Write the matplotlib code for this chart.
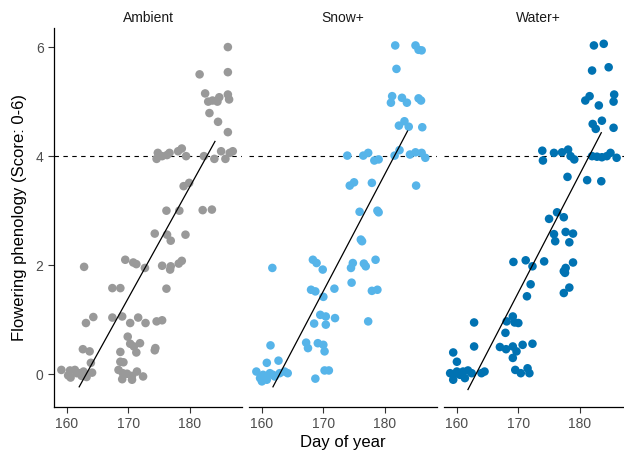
import numpy as np
import matplotlib.pyplot as plt

plt.rcParams['font.family'] = ['Liberation Sans', 'DejaVu Sans']

panels = ["Ambient", "Snow+", "Water+"]
colors = ["#999999", "#56B4E9", "#0072B2"]

amb_day = [186.2, 181.6, 186.2, 182.5,
           183.0, 183.7, 184.5, 184.8, 186.2, 186.4,
           183.2, 184.6, 186.2,
           174.8, 174.6, 175.5, 176.3, 176.7, 178.1, 178.7, 179.4, 182.3, 184.0, 185.1, 185.8, 186.5, 187.0,
           179.0, 179.9,
           176.2, 178.3, 182.1, 183.6,
           174.3, 176.3, 176.9, 179.3,
           169.5, 170.8, 171.3, 172.7, 175.5, 176.9, 176.8, 178.2, 178.7,
           162.8,
           167.4, 168.7, 176.2,
           163.1, 164.3, 167.4, 169.0, 170.3, 171.6, 172.8, 174.6, 175.5,
           169.9, 170.3, 170.9, 171.3, 171.9, 168.7, 174.4, 174.3, 162.6, 163.7, 163.9,
           168.7, 169.2, 168.4, 169.1, 169.8, 170.6, 171.4, 172.4, 169.0, 170.6,
           159.1, 160.2, 160.6, 161.3, 162.1, 162.7, 163.2, 164.1, 162.4, 161.6, 160.5, 163.0]
amb_score = [6.0, 5.5, 5.54, 5.15,
             5.0, 5.02, 5.0, 5.08, 5.13, 5.04,
             4.79, 4.63, 4.44,
             4.06, 3.95, 4.0, 4.02, 4.06, 4.09, 4.14, 4.0, 4.0, 3.95, 4.09, 3.95, 4.06, 4.09,
             3.45, 3.51,
             3.0, 3.0, 3.01, 3.02,
             2.58, 2.56, 2.45, 2.56,
             2.1, 2.05, 2.02, 1.95, 1.99, 1.98, 1.92, 2.03, 2.08,
             1.97,
             1.58, 1.58, 1.57,
             0.94, 1.05, 1.04, 1.06, 0.94, 1.04, 0.94, 0.97, 0.99,
             0.69, 0.56, 0.51, 0.40, 0.57, 0.41, 0.48, 0.44, 0.46, 0.42, 0.21,
             0.23, 0.22, 0.08, 0.02, 0.01, -0.1, 0.05, -0.04, -0.09, -0.03,
             0.08, -0.02, -0.06, 0.08, 0.02, 0.05, -0.05, 0.03, -0.03, 0.02, 0.07, 0.0]

snow_day = [181.7, 185.0, 185.5, 186.0, 181.9,
            181.2, 181.0, 182.8, 183.6, 185.5, 185.9,
            182.3, 183.2, 183.9, 186.1,
            173.9, 176.5, 177.3, 178.3, 179.0, 181.6, 182.4, 184.1, 185.0, 186.0, 186.6,
            174.3, 175.0, 177.9, 185.1,
            175.9, 178.8, 179.0,
            176.1, 176.3,
            168.3, 168.9, 169.9, 174.5, 174.8, 176.6, 176.9, 178.5,
            161.7, 174.6,
            168.0, 168.7, 170.0, 171.8, 177.9, 178.8,
            169.5, 170.4, 171.9, 168.5, 170.4, 177.3,
            161.4, 167.2, 167.5, 169.1, 170.0, 170.2,
            160.8, 162.7,
            159.1, 159.7, 160.2, 161.3, 162.1, 162.9, 163.7, 164.2, 160.0, 161.8, 160.8,
            168.7, 170.2, 170.9]
snow_score = [6.03, 6.03, 5.95, 5.94, 5.6,
              5.1, 4.98, 5.07, 4.98, 5.06, 5.02,
              4.56, 4.64, 4.54, 4.53,
              4.01, 4.01, 4.06, 3.92, 3.94, 4.01, 4.11, 4.03, 4.07, 4.06, 3.97,
              3.46, 3.52, 3.51, 3.46,
              2.98, 3.0, 2.97,
              2.47, 2.44,
              2.1, 2.04, 1.92, 1.95, 2.04, 2.03, 1.98, 2.1,
              1.95, 1.68,
              1.55, 1.52, 1.42, 1.57, 1.53, 1.55,
              1.09, 1.06, 1.03, 0.93, 0.91, 0.97,
              0.53, 0.58, 0.48, 0.57, 0.54, 0.42,
              0.21, 0.25,
              0.05, -0.07, -0.01, 0.02, -0.04, 0.02, 0.05, 0.02, -0.13, -0.01, -0.1,
              -0.08, 0.07, 0.07]

water_day = [182.3, 183.9, 182.0, 184.7,
             180.9, 181.6, 183.1, 185.6, 185.5,
             182.1, 182.6, 183.6, 185.5,
             173.9, 174.0, 175.8, 177.1, 178.1, 178.5, 179.1, 182.0, 182.8, 183.6, 185.0, 186.0, 184.4,
             178.0, 181.2, 183.5,
             176.3, 175.0, 177.4,
             175.8, 176.0, 177.7, 178.9, 178.3,
             169.2, 171.2, 172.3, 174.2, 178.9, 177.7, 177.6, 177.4,
             172.0, 171.4, 177.4, 178.3,
             162.8, 168.1, 169.1, 169.4, 170.0, 167.9,
             162.8, 167.0, 168.0, 169.1, 169.7, 170.7, 172.3, 169.1,
             159.4, 160.0,
             158.9, 159.4, 160.0, 160.5, 161.3, 161.8, 162.4, 164.0, 164.5, 161.0, 159.4,
             169.5, 170.4, 171.5, 171.8]
water_score = [6.03, 6.06, 5.57, 5.63,
               5.02, 5.1, 4.93, 5.13, 5.0,
               4.59, 4.5, 4.65, 4.52,
               4.1, 3.92, 4.06, 4.07, 4.12, 4.0, 3.94, 4.0, 3.99, 3.98, 4.06, 3.97, 4.0,
               3.62, 3.56, 3.54,
               2.97, 2.85, 2.88,
               2.57, 2.44, 2.61, 2.58, 2.42,
               2.06, 2.09, 1.98, 2.07, 2.05, 1.95, 1.86, 1.89,
               1.65, 1.43, 1.49, 1.59,
               0.95, 0.97, 1.06, 0.95, 0.94, 0.76,
               0.51, 0.5, 0.46, 0.51, 0.42, 0.54, 0.56, 0.3,
               0.4, 0.23,
               0.02, -0.1, 0.05, -0.01, -0.07, 0.07, 0.02, 0.02, 0.05, 0.05, -0.01,
               0.08, 0.02, 0.11, 0.02]

# fitted line ends (day, score)
fit_day = [[162.0, 184.1], [161.8, 183.7], [161.8, 183.5]]
fit_score = [[-0.23, 4.27], [-0.23, 4.46], [-0.28, 4.43]]

days = [amb_day, snow_day, water_day]
scores = [amb_score, snow_score, water_score]

W, H = 624, 454
fig = plt.figure(figsize=(W / 100, H / 100), dpi=100)

lefts = [54, 249, 444]
pw = 188
top, bottom = 28, 407

for i, name in enumerate(panels):
    ax = fig.add_axes([lefts[i] / W, 1 - bottom / H, pw / W, (bottom - top) / H])
    ax.scatter(days[i], scores[i], s=38, color=colors[i], edgecolors='none', zorder=2)
    ax.plot(fit_day[i], fit_score[i], color='black', lw=0.9, zorder=3)
    ax.axhline(4, color='black', lw=0.8, linestyle=(0, (4, 4)), zorder=1)
    ax.set_xlim(157.9, 188.5)
    ax.set_ylim(-0.6, 6.35)
    ax.set_xticks([160, 170, 180])
    ax.set_yticks([0, 2, 4, 6])
    for s in ['top', 'right']:
        ax.spines[s].set_visible(False)
    ax.spines['bottom'].set_color('black')
    ax.spines['bottom'].set_linewidth(0.9)
    ax.tick_params(axis='both', colors='#333333', labelcolor='#4D4D4D', labelsize=10,
                   length=4, width=0.8)
    if i == 0:
        ax.spines['left'].set_color('black')
        ax.spines['left'].set_linewidth(0.9)
        ax.set_ylabel("Flowering phenology (Score: 0-6)", fontsize=12, labelpad=6)
    else:
        ax.spines['left'].set_visible(False)
        ax.tick_params(axis='y', left=False, labelleft=False)
    ax.set_title(name, fontsize=10, pad=4, color='#1A1A1A')
    ax.patch.set_alpha(0)

fig.text(343 / W, 1 - 443 / H, "Day of year", ha='center', va='center', fontsize=12)

fig.savefig("out.png", dpi=100)
